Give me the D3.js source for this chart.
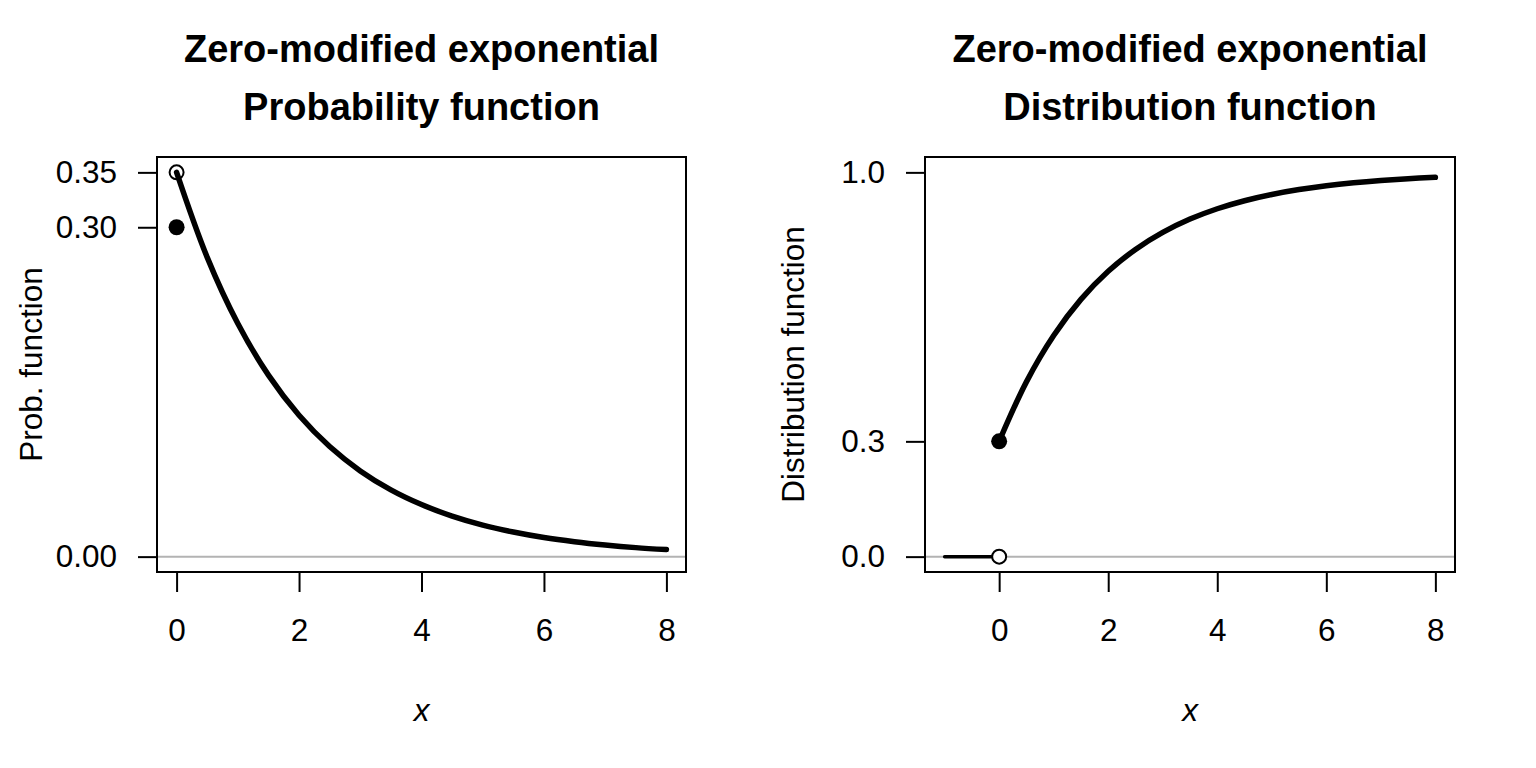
<!DOCTYPE html>
<html>
<head>
<meta charset="utf-8">
<script src="https://cdn.jsdelivr.net/npm/d3@7"></script>
<style>
  body { margin: 0; background: #fff; }
  svg { display: block; }
  text { font-family: "Liberation Sans", Arial, Helvetica, sans-serif; fill: #000; }
</style>
</head>
<body>
<div id="chart"></div>
<script>
const width = 1536;
const height = 768;

// values
const xs = [0, 0.5, 1, 1.5, 2, 2.5, 3, 3.5, 4, 4.5, 5, 5.5, 6, 6.5, 7, 7.5, 8];
const pdfValues = [0.35, 0.2726, 0.2123, 0.1653, 0.1288, 0.1003, 0.0781, 0.0608, 0.0474,
  0.0369, 0.0287, 0.0224, 0.0174, 0.0136, 0.0106, 0.0082, 0.0064];
const cdfValues = [0.3, 0.4548, 0.5754, 0.6694, 0.7425, 0.7995, 0.8438, 0.8784, 0.9053,
  0.9262, 0.9425, 0.9552, 0.9651, 0.9728, 0.9788, 0.9835, 0.9872];
const pdfAtom = { x: 0, open: 0.35, closed: 0.30 };
const cdfStep = { x0: -1, x1: 0, y: 0, jump: 0.3 };

const xTicks = [0, 2, 4, 6, 8];
const pdfYTicks = [0, 0.30, 0.35];
const cdfYTicks = [0, 0.3, 1.0];

const titleTop = "Zero-modified exponential";
const pdfTitle = "Probability function";
const cdfTitle = "Distribution function";
const pdfYLabel = "Prob. function";
const cdfYLabel = "Distribution function";

const svg = d3.select("#chart").append("svg")
  .attr("width", width)
  .attr("height", height);

function panel(opts) {
  const box = opts.box;
  const x = d3.scaleLinear().domain(opts.xDomain).range([box.left, box.right]);
  const y = d3.scaleLinear().domain(opts.yDomain).range([box.bottom, box.top]);
  const g = svg.append("g");
  const cx = (box.left + box.right) / 2;

  // titles
  g.append("text").attr("x", cx).attr("y", 62)
    .attr("text-anchor", "middle").attr("font-size", 38).attr("font-weight", "bold")
    .text(titleTop);
  g.append("text").attr("x", cx).attr("y", 120)
    .attr("text-anchor", "middle").attr("font-size", 38).attr("font-weight", "bold")
    .text(opts.title);

  // grey zero line
  g.append("line")
    .attr("x1", box.left).attr("x2", box.right)
    .attr("y1", y(0)).attr("y2", y(0))
    .attr("stroke", "#b3b3b3").attr("stroke-width", 2);

  // axes
  const xAxis = d3.axisBottom(x).tickValues(xTicks).tickSize(20).tickPadding(27)
    .tickFormat(d3.format("d"));
  const gx = g.append("g")
    .attr("transform", `translate(0,${box.bottom})`)
    .call(xAxis);
  gx.select(".domain").remove();
  gx.selectAll("line").attr("stroke", "#000").attr("stroke-width", 2);
  gx.selectAll("text").attr("font-size", 31.5).attr("dy", "0.71em")
    .style("font-family", "'Liberation Sans', Arial, sans-serif");

  const yAxis = d3.axisLeft(y).tickValues(opts.yTicks).tickSize(19).tickPadding(21)
    .tickFormat(opts.yFormat);
  const gy = g.append("g")
    .attr("transform", `translate(${box.left},0)`)
    .call(yAxis);
  gy.select(".domain").remove();
  gy.selectAll("line").attr("stroke", "#000").attr("stroke-width", 2);
  gy.selectAll("text").attr("font-size", 31.5)
    .style("font-family", "'Liberation Sans', Arial, sans-serif");

  // axis titles
  g.append("text").attr("x", cx).attr("y", 721)
    .attr("text-anchor", "middle").attr("font-size", 31.5).attr("font-style", "italic")
    .text("x");
  g.append("text")
    .attr("transform", `translate(${opts.yLabelX},${(box.top + box.bottom) / 2}) rotate(-90)`)
    .attr("text-anchor", "middle").attr("font-size", 31.5)
    .text(opts.yLabel);

  // frame
  g.append("rect")
    .attr("x", box.left).attr("y", box.top)
    .attr("width", box.right - box.left).attr("height", box.bottom - box.top)
    .attr("fill", "none").attr("stroke", "#000").attr("stroke-width", 2);

  return { g, x, y };
}

// left panel: probability function
const left = panel({
  box: { left: 157, right: 686, top: 157, bottom: 572 },
  xDomain: [-0.32, 8.32],
  yDomain: [-0.014, 0.364],
  yTicks: pdfYTicks,
  yFormat: d3.format(".2f"),
  title: pdfTitle,
  yLabel: pdfYLabel,
  yLabelX: 42
});

left.g.append("path")
  .datum(xs.map((d, i) => [d, pdfValues[i]]))
  .attr("fill", "none").attr("stroke", "#000").attr("stroke-width", 5.5)
  .attr("stroke-linecap", "round")
  .attr("d", d3.line().curve(d3.curveCatmullRom)
    .x(d => left.x(d[0])).y(d => left.y(d[1])));

left.g.append("circle")
  .attr("cx", left.x(pdfAtom.x)).attr("cy", left.y(pdfAtom.open)).attr("r", 7)
  .attr("fill", "none").attr("stroke", "#000").attr("stroke-width", 2);
left.g.append("circle")
  .attr("cx", left.x(pdfAtom.x)).attr("cy", left.y(pdfAtom.closed)).attr("r", 8)
  .attr("fill", "#000");

// right panel: distribution function
const right = panel({
  box: { left: 925, right: 1455, top: 157, bottom: 572 },
  xDomain: [-1.36, 8.36],
  yDomain: [-0.04, 1.04],
  yTicks: cdfYTicks,
  yFormat: d3.format(".1f"),
  title: cdfTitle,
  yLabel: cdfYLabel,
  yLabelX: 804
});

right.g.append("line")
  .attr("x1", right.x(cdfStep.x0)).attr("x2", right.x(cdfStep.x1))
  .attr("y1", right.y(cdfStep.y)).attr("y2", right.y(cdfStep.y))
  .attr("stroke", "#000").attr("stroke-width", 3.5).attr("stroke-linecap", "round");

right.g.append("path")
  .datum(xs.map((d, i) => [d, cdfValues[i]]))
  .attr("fill", "none").attr("stroke", "#000").attr("stroke-width", 5.5)
  .attr("stroke-linecap", "round")
  .attr("d", d3.line().curve(d3.curveCatmullRom)
    .x(d => right.x(d[0])).y(d => right.y(d[1])));

right.g.append("circle")
  .attr("cx", right.x(cdfStep.x1)).attr("cy", right.y(cdfStep.y)).attr("r", 7)
  .attr("fill", "#fff").attr("stroke", "#000").attr("stroke-width", 2);
right.g.append("circle")
  .attr("cx", right.x(cdfStep.x1)).attr("cy", right.y(cdfStep.jump)).attr("r", 8)
  .attr("fill", "#000");
</script>
</body>
</html>
